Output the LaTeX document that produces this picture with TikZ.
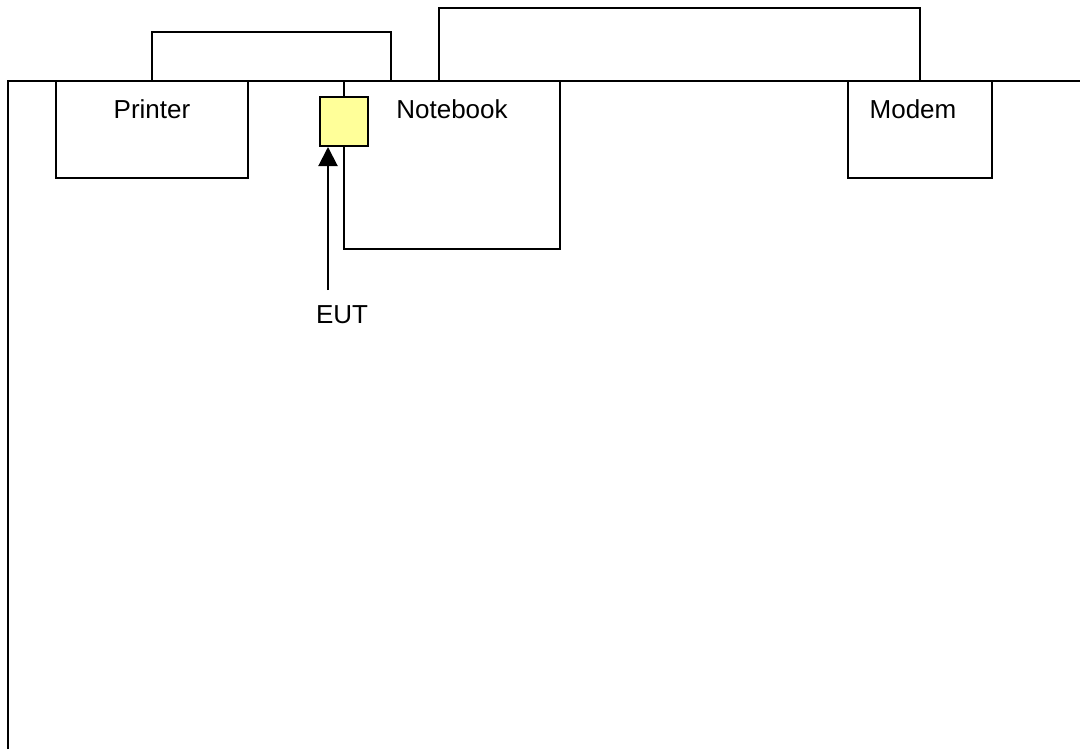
\documentclass[tikz,border=0pt]{standalone}
\usepackage{fontspec}
\setmainfont{Liberation Sans}
\usepackage{xcolor}
\usetikzlibrary{arrows.meta,positioning}
\definecolor{eutyellow}{RGB}{255,255,153}

\begin{document}
\begin{tikzpicture}[
  x=0.5pt, y=-0.5pt,
  every node/.style={font=\fontsize{13}{15}\selectfont},
  box/.style={draw, line width=1pt, fill=white, minimum height=48.5pt, inner sep=0pt},
  tag/.style={anchor=north, yshift=-9.5pt, inner sep=0pt},
  cable/.style={line width=1pt},
  arr/.style={-{Triangle[length=9.5pt,width=9.5pt]}, line width=1pt}
]
  \useasboundingbox (0,0) rectangle (1080,749);

  % table edge
  \coordinate (tbl)  at (8,81);
  \draw[cable] (8,749) -- (tbl) -- (1080,81);

  % equipment
  \node[box, minimum width=96pt, label={[tag]north:Printer}] (printer) at (152,129.5) {};
  \node[box, minimum width=108pt, minimum height=84pt, label={[tag]north:Notebook}] (nb) at (452,165) {};
  \node[box, minimum width=72pt, label={[tag, xshift=-3.5pt]north:Modem}] (modem) at (920,129.5) {};
  \node[box, fill=eutyellow, minimum width=24pt, minimum height=24.5pt] (eut) at (344,121.5) {};

  % cables
  \draw[cable] (printer.north) -- ++(0,-48) -| ([xshift=24pt]nb.north west);
  \draw[cable] ([xshift=48pt]nb.north west) -- ++(0,-72) -| (modem.north);

  % EUT pointer
  \node[inner sep=0pt] (eutlbl) at (342,314.5) {EUT};
  \coordinate (tail) at (328,290);
  \draw[arr] (tail) -- (tail |- eut.south);
\end{tikzpicture}
\end{document}
